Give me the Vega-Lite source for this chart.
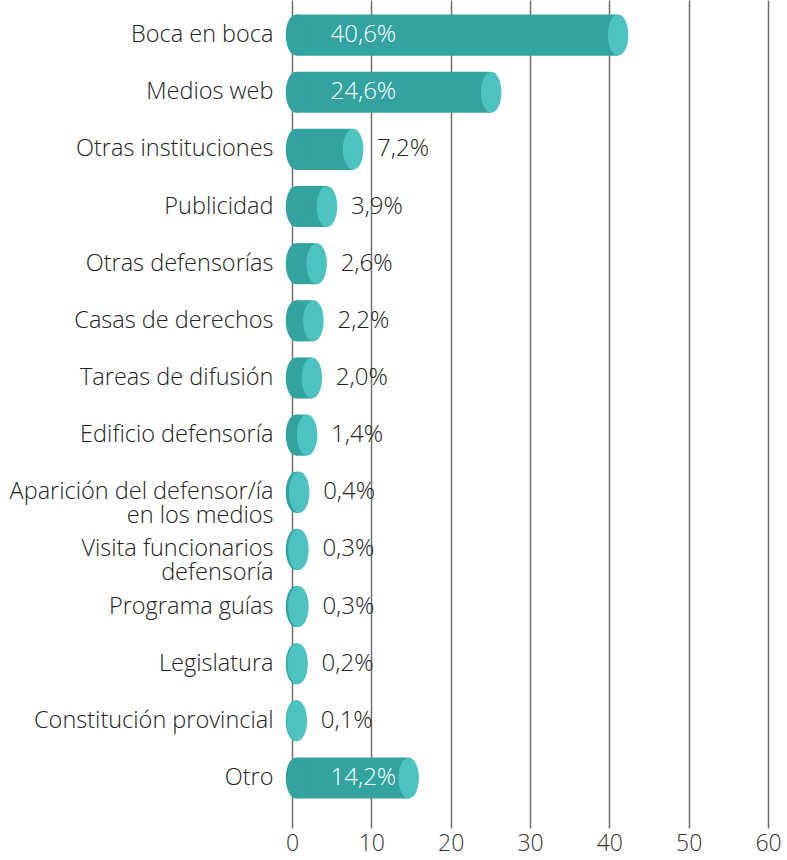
{
  "$schema": "https://vega.github.io/schema/vega-lite/v6.json",
  "width": 476,
  "height": 828,
  "autosize": "none",
  "padding": {"left": 292, "top": 0, "right": 19, "bottom": 32},
  "background": "white",
  "config": {"view": {"stroke": null}, "font": "Open Sans"},
  "data": {
    "values": [
      {"cat": "Boca en boca", "v": 40.6, "label": "40,6%"},
      {"cat": "Medios web", "v": 24.6, "label": "24,6%"},
      {"cat": "Otras instituciones", "v": 7.2, "label": "7,2%"},
      {"cat": "Publicidad", "v": 3.9, "label": "3,9%"},
      {"cat": "Otras defensorías", "v": 2.6, "label": "2,6%"},
      {"cat": "Casas de derechos", "v": 2.2, "label": "2,2%"},
      {"cat": "Tareas de difusión", "v": 2.0, "label": "2,0%"},
      {"cat": "Edificio defensoría", "v": 1.4, "label": "1,4%"},
      {"cat": "Aparición del defensor/ía en los medios", "v": 0.4, "label": "0,4%"},
      {"cat": "Visita funcionarios defensoría", "v": 0.3, "label": "0,3%"},
      {"cat": "Programa guías", "v": 0.3, "label": "0,3%"},
      {"cat": "Legislatura", "v": 0.2, "label": "0,2%"},
      {"cat": "Constitución provincial", "v": 0.1, "label": "0,1%"},
      {"cat": "Otro", "v": 14.2, "label": "14,2%"}
    ]
  },
  "encoding": {
    "y": {
      "field": "cat",
      "type": "nominal",
      "sort": null,
      "scale": {"paddingInner": 0.28, "paddingOuter": 0.384, "align": 0.33},
      "axis": {
        "title": null,
        "domain": false,
        "ticks": false,
        "labelFontSize": 23.5,
        "labelColor": "#222222",
        "labelPadding": 19,
        "labelFontWeight": 300,
        "labelLimit": 320,
        "labelLineHeight": 23.5,
        "labelExpr": "datum.value == 'Aparición del defensor/ía en los medios' ? ['Aparición del defensor/ía', 'en los medios'] : datum.value == 'Visita funcionarios defensoría' ? ['Visita funcionarios', 'defensoría'] : datum.label"
      }
    },
    "x": {
      "type": "quantitative",
      "scale": {"domain": [0, 60], "nice": false},
      "axis": {
        "title": null,
        "values": [0, 10, 20, 30, 40, 50, 60],
        "domain": false,
        "ticks": false,
        "grid": true,
        "gridColor": "#707070",
        "gridWidth": 1.5,
        "labelFontSize": 23,
        "labelColor": "#333333",
        "labelFontWeight": 300,
        "labelPadding": 4,
        "labelFlush": false
      }
    }
  },
  "layer": [
    {
      "mark": {"type": "bar", "color": "#33a3a0", "xOffset": 4},
      "encoding": {"x": {"field": "v"}}
    },
    {
      "mark": {"type": "point", "shape": "M-0.5,0A0.5,1 0 1,0 0.5,0A0.5,1 0 1,0 -0.5,0Z", "filled": true, "color": "#33a3a0", "opacity": 1, "size": 1681, "xOffset": 4},
      "encoding": {"x": {"datum": 0}}
    },
    {
      "mark": {"type": "point", "shape": "M-0.5,0A0.5,1 0 1,0 0.5,0A0.5,1 0 1,0 -0.5,0Z", "filled": true, "color": "#4cc3c0", "opacity": 1, "size": 1681, "xOffset": 4},
      "encoding": {"x": {"field": "v"}}
    },
    {
      "transform": [{"filter": "datum.v < 10"}],
      "mark": {"type": "text", "align": "left", "baseline": "middle", "dx": 28, "fontSize": 24, "fontWeight": 300, "color": "#222222"},
      "encoding": {
        "x": {"field": "v"},
        "text": {"field": "label"}
      }
    },
    {
      "transform": [{"filter": "datum.v >= 10"}],
      "mark": {"type": "text", "align": "center", "baseline": "middle", "fontSize": 24, "fontWeight": 300, "color": "#ffffff"},
      "encoding": {
        "x": {"datum": 9},
        "text": {"field": "label"}
      }
    }
  ]
}
